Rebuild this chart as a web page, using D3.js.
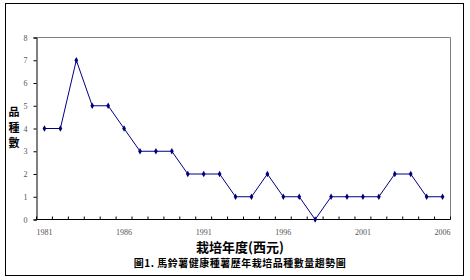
<!DOCTYPE html>
<html><head><meta charset="utf-8">
<script src="https://cdn.jsdelivr.net/npm/d3@7"></script>
<style>body{margin:0;background:#fff}</style>
</head><body>
<script>
const years = [1981,1982,1983,1984,1985,1986,1987,1988,1989,1990,1991,1992,1993,1994,1995,1996,1997,1998,1999,2000,2001,2002,2003,2004,2005,2006];
const counts = [4,4,7,5,5,4,3,3,3,2,2,2,1,1,2,1,1,0,1,1,1,1,2,2,1,1];
const yTicks = [0,1,2,3,4,5,6,7,8];
const xLabelYears = [1981,1986,1991,1996,2001,2006];
const yTitle = ["品","種","數"];
const xTitle = "栽培年度(西元)";
const caption = "圖1. 馬鈴薯健康種薯歷年栽培品種數量趨勢圖";

const W=470,H=280;
const svg=d3.select("body").append("svg").attr("width",W).attr("height",H);
svg.append("rect").attr("x",5.5).attr("y",3.5).attr("width",458).attr("height",272)
  .attr("fill","#fff").attr("stroke","#000").attr("stroke-width",1);

const L=36.5,R=450.5,T=37.5,B=219.5;
const x=d3.scaleBand().domain(years).range([L,R]);
const y=d3.scaleLinear().domain([0,8]).range([B,T]);

svg.append("path").attr("d",`M${L},${T}H${R}V${B}`).attr("fill","none").attr("stroke","#808080");

const ya=svg.append("g").attr("transform",`translate(${L},0)`)
  .call(d3.axisLeft(y).tickValues(yTicks).tickSize(3).tickFormat(d3.format("d")));
ya.select(".domain").attr("stroke","#000");
ya.selectAll("line").attr("stroke","#000");
ya.selectAll("text").attr("font-family","Liberation Serif").attr("font-size",8).attr("fill","#555").attr("dx",-3);

const xa=svg.append("g").attr("transform",`translate(0,${B})`);
xa.append("line").attr("x1",L).attr("x2",R).attr("stroke","#000");
const bounds=years.map(d=>x(d)).concat([x(years[years.length-1])+x.bandwidth()]);
xa.selectAll("line.t").data(bounds).enter().append("line").attr("class","t")
  .attr("x1",d=>d).attr("x2",d=>d).attr("y1",0).attr("y2",-3).attr("stroke","#000");
xa.selectAll("text").data(xLabelYears).enter().append("text")
  .attr("x",d=>x(d)+x.bandwidth()/2).attr("y",15).attr("text-anchor","middle")
  .attr("font-family","Liberation Serif").attr("font-size",8).attr("fill","#555").text(d=>d);

const line=d3.line().x((d,i)=>x(years[i])+x.bandwidth()/2).y(d=>y(d));
svg.append("path").datum(counts).attr("d",line).attr("fill","none").attr("stroke","#000080").attr("stroke-width",1);
svg.selectAll("path.m").data(counts).enter().append("path").attr("class","m")
  .attr("d",d3.symbol().type(d3.symbolDiamond).size(12))
  .attr("transform",(d,i)=>`translate(${x(years[i])+x.bandwidth()/2},${y(d)})`)
  .attr("fill","#000080");

svg.selectAll("text.yt").data(yTitle).enter().append("text").attr("class","yt")
  .attr("x",14).attr("y",(d,i)=>116+i*15.5).attr("text-anchor","middle")
  .attr("font-family","Noto Sans CJK TC").attr("font-weight","bold").attr("font-size",11).text(d=>d);

svg.append("text").attr("x",240).attr("y",252).attr("text-anchor","middle")
  .attr("font-family","Noto Sans CJK TC").attr("font-weight","bold").attr("font-size",13).text(xTitle);
svg.append("text").attr("x",240).attr("y",267).attr("text-anchor","middle")
  .attr("font-family","Noto Sans CJK TC").attr("font-weight","bold").attr("font-size",10)
  .attr("letter-spacing",0.5).text(caption);
</script>
</body></html>
